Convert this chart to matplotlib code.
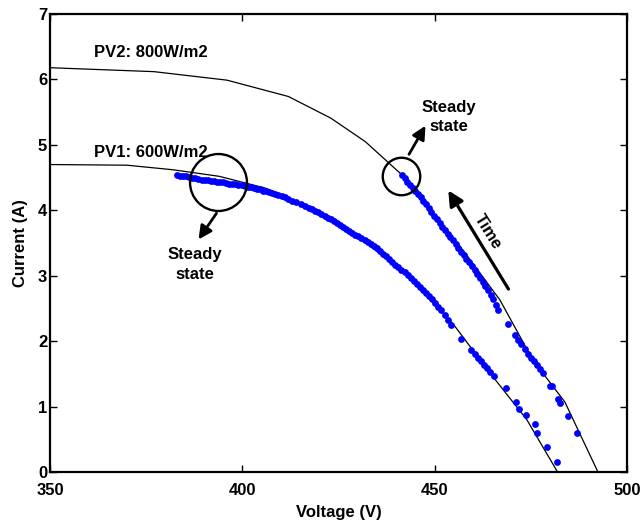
import matplotlib
matplotlib.use("Agg")
import matplotlib.pyplot as plt

plt.rcParams["font.family"] = ["Liberation Sans", "DejaVu Sans"]
plt.rcParams["font.weight"] = "bold"

# I-V curves of the two PV arrays (black lines)
pv1_curve_v = [350, 370, 382, 394, 406, 418, 428, 434, 445, 455, 465, 474, 482]
pv1_curve_i = [4.70, 4.69, 4.62, 4.52, 4.34, 4.03, 3.68, 3.42, 2.90, 2.25, 1.47, 0.80, 0.0]
pv2_curve_v = [350, 377, 396, 412, 423, 432, 441, 449, 457.4, 467, 475.6, 483.9, 492.5]
pv2_curve_i = [6.18, 6.12, 5.99, 5.74, 5.41, 5.05, 4.57, 4.00, 3.39, 2.63, 1.71, 1.07, 0.0]

# operating points recorded while tracking (blue dots)
pv1_dots_v = [383.0, 383.8, 384.6, 385.4, 386.2, 387.0, 387.8, 388.6, 389.4, 390.2,
              391.0, 391.8, 392.6, 393.4, 394.2, 395.0, 395.8, 396.6, 397.4, 398.2,
              399.0, 399.8, 400.6, 401.4, 402.2, 403.0, 403.8, 404.6, 405.4, 406.2,
              407.0, 407.8, 408.6, 409.4, 410.2, 411.0, 411.8, 413.0, 414.0, 415.2,
              416.4, 417.4, 418.2, 419.0, 419.8, 420.6, 421.4, 422.2, 423.0, 423.8,
              424.6, 425.4, 426.2, 427.0, 427.8, 428.6, 429.4, 430.2, 431.0, 431.8,
              432.6, 433.4, 434.2, 435.0, 435.8, 436.6, 437.4, 438.2, 439.0, 439.8,
              440.6, 441.4, 442.2, 443.0, 443.8, 444.6, 445.4, 446.2, 447.0, 447.8,
              448.6, 449.4, 450.2, 451.0, 451.8, 452.6, 453.4, 454.2, 457.0, 459.6,
              460.4, 461.2, 462.0, 462.8, 463.6, 464.4, 465.4, 468.5, 471.1, 471.9,
              473.9, 476.0, 476.6, 479.2, 481.8]
pv1_dots_i = [4.54, 4.53, 4.52, 4.52, 4.51, 4.50, 4.49, 4.48, 4.47, 4.47,
              4.46, 4.45, 4.45, 4.44, 4.43, 4.43, 4.42, 4.41, 4.40, 4.40,
              4.39, 4.38, 4.37, 4.36, 4.35, 4.34, 4.33, 4.32, 4.30, 4.29,
              4.28, 4.27, 4.25, 4.24, 4.22, 4.20, 4.18, 4.15, 4.12, 4.09,
              4.06, 4.04, 4.02, 3.99, 3.97, 3.94, 3.92, 3.89, 3.86, 3.83,
              3.80, 3.77, 3.75, 3.72, 3.69, 3.66, 3.63, 3.61, 3.58, 3.55,
              3.52, 3.49, 3.45, 3.42, 3.38, 3.34, 3.30, 3.26, 3.21, 3.17,
              3.13, 3.09, 3.05, 3.01, 2.96, 2.92, 2.87, 2.83, 2.78, 2.73,
              2.69, 2.64, 2.58, 2.52, 2.47, 2.40, 2.33, 2.25, 2.03, 1.86,
              1.81, 1.75, 1.70, 1.64, 1.59, 1.53, 1.47, 1.28, 1.07, 0.96,
              0.87, 0.73, 0.60, 0.38, 0.16]
pv2_dots_v = [441.5, 442.2, 442.9, 443.6, 444.3, 445.0, 445.7, 446.4, 447.1, 447.8,
              448.5, 449.2, 449.9, 450.6, 451.3, 452.0, 452.7, 453.4, 454.1, 454.8,
              455.5, 456.2, 456.9, 457.6, 458.3, 459.0, 459.7, 460.4, 461.1, 461.8,
              462.5, 463.2, 463.9, 464.6, 465.3, 466.0, 466.6, 469.1, 471.0, 471.8,
              472.6, 473.4, 474.2, 475.0, 475.8, 476.6, 477.4, 478.2, 479.9, 480.5,
              482.2, 482.7, 484.7, 487.0]
pv2_dots_i = [4.54, 4.49, 4.44, 4.39, 4.34, 4.29, 4.25, 4.20, 4.14, 4.09,
              4.03, 3.98, 3.92, 3.86, 3.81, 3.75, 3.70, 3.64, 3.59, 3.54,
              3.48, 3.43, 3.37, 3.32, 3.26, 3.21, 3.15, 3.09, 3.03, 2.97,
              2.91, 2.85, 2.78, 2.71, 2.64, 2.56, 2.48, 2.26, 2.09, 2.02,
              1.95, 1.88, 1.81, 1.75, 1.69, 1.63, 1.57, 1.51, 1.32, 1.31,
              1.11, 1.06, 0.85, 0.60]

x_ticks = [350, 400, 450, 500]
y_ticks = [0, 1, 2, 3, 4, 5, 6, 7]

fig = plt.figure(figsize=(6.43, 5.21), dpi=100)
ax = fig.add_axes([0.0778, 0.094, 0.897, 0.879])

ax.plot(pv1_curve_v, pv1_curve_i, color="black", lw=0.9)
ax.plot(pv2_curve_v, pv2_curve_i, color="black", lw=0.9)
ax.plot(pv1_dots_v, pv1_dots_i, "o", color="#0000ff", ms=4.9, mec="none")
ax.plot(pv2_dots_v, pv2_dots_i, "o", color="#0000ff", ms=4.9, mec="none")

# steady-state circles
ax.plot([393.7], [4.43], "o", mfc="none", mec="black", ms=41, mew=1.7)
ax.plot([441.2], [4.53], "o", mfc="none", mec="black", ms=27, mew=1.7)

arrow = dict(arrowstyle="-|>,head_length=0.8,head_width=0.4", color="black", lw=2)
ax.annotate("", xy=(388.2, 3.52), xytext=(393.7, 3.99), arrowprops=arrow)
ax.annotate("", xy=(448.0, 5.33), xytext=(443.0, 4.82), arrowprops=arrow)
ax.annotate("", xy=(453.2, 4.34), xytext=(469.6, 2.76),
            arrowprops=dict(arrowstyle="-|>,head_length=0.9,head_width=0.45",
                            color="black", lw=2.3))

ax.text(361.4, 6.41, "PV2: 800W/m2", fontsize=12, va="center", ha="left")
ax.text(361.4, 4.88, "PV1: 600W/m2", fontsize=12, va="center", ha="left")
ax.text(387.7, 3.17, "Steady\nstate", fontsize=12, ha="center", va="center",
        linespacing=1.45)
ax.text(453.7, 5.43, "Steady\nstate", fontsize=12, ha="center", va="center",
        linespacing=1.35)
ax.text(463.9, 3.67, "Time", fontsize=12, ha="center", va="center", rotation=-58)

ax.set_xlim(350, 500)
ax.set_ylim(0, 7)
ax.set_xticks(x_ticks)
ax.set_yticks(y_ticks)
ax.tick_params(direction="in", length=5, width=1, top=True, right=True,
               labelsize=12)
ax.tick_params(axis="x", pad=8)
ax.tick_params(axis="y", pad=2)
for lbl in ax.get_xticklabels() + ax.get_yticklabels():
    lbl.set_fontweight("bold")
for sp in ax.spines.values():
    sp.set_linewidth(1.6)

ax.set_xlabel("Voltage (V)", fontsize=12, fontweight="bold", labelpad=5)
ax.set_ylabel("Current (A)", fontsize=12, fontweight="bold", labelpad=7)

fig.savefig("out.png", dpi=100)
